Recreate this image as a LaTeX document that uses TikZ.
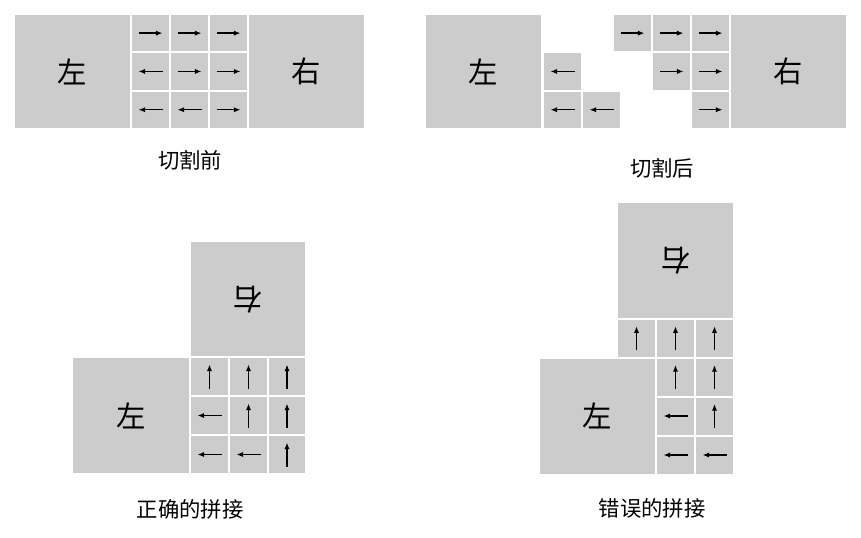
\documentclass[tikz,border=0pt]{standalone}
\usepackage{fontspec}
\newfontfamily\cjk{Noto Sans CJK SC}
\usetikzlibrary{arrows.meta}
\tikzset{
  piece/.style={fill=black!20,draw=white,line width=1.5pt,inner sep=0pt,outer sep=0pt},
  arr/.style={-{Latex[length=5pt,width=4pt]},line width=1pt},
  big/.style={font=\cjk\fontsize{22}{22}\selectfont},
  lab/.style={font=\cjk\fontsize{16}{16}\selectfont}
}
% \pc{name}{x}{y}{w}{h}{dir}  dir: r l u n
\newcommand\pc[6]{%
  \node[piece,minimum width=#4*0.75pt,minimum height=#5*0.75pt,anchor=north west] (#1) at (#2,#3) {};
  \ifx r#6\draw[arr] ([xshift=-9pt]#1.center) -- ([xshift=9pt]#1.center);\fi
  \ifx l#6\draw[arr] ([xshift=9pt]#1.center) -- ([xshift=-9pt]#1.center);\fi
  \ifx u#6\draw[arr] ([yshift=-9pt]#1.center) -- ([yshift=9pt]#1.center);\fi
}
\begin{document}
\begin{tikzpicture}[x=0.75pt,y=-0.75pt]
\useasboundingbox (0,0) rectangle (861,537);
% top left
\pc{aL}{14}{14}{117}{115}{n}
\node[big] at (aL.center) {左};
\pc{aR}{248}{14}{117}{115}{n}
\node[big] at (aR.center) {右};
\pc{a1}{131}{14}{39}{38.3}{r}\pc{a2}{170}{14}{39}{38.3}{r}\pc{a3}{209}{14}{39}{38.3}{r}
\pc{a4}{131}{52.3}{39}{38.3}{l}\pc{a5}{170}{52.3}{39}{38.3}{r}\pc{a6}{209}{52.3}{39}{38.3}{r}
\pc{a7}{131}{90.6}{39}{38.3}{l}\pc{a8}{170}{90.6}{39}{38.3}{l}\pc{a9}{209}{90.6}{39}{38.3}{r}
\node[lab] (la) at (190,160) {切割前};
% top right
\pc{bL}{425}{14}{117}{115}{n}
\node[big] at (bL.center) {左};
\pc{bR}{730}{14}{117}{115}{n}
\node[big] at (bR.center) {右};
\pc{b1}{613}{14}{39}{38.3}{r}\pc{b2}{652}{14}{39}{38.3}{r}\pc{b3}{691}{14}{39}{38.3}{r}
\pc{b5}{652}{52.3}{39}{38.3}{r}\pc{b6}{691}{52.3}{39}{38.3}{r}
\pc{b9}{691}{90.6}{39}{38.3}{r}
\pc{b4}{543}{52.3}{39}{38.3}{l}
\pc{b7}{543}{90.6}{39}{38.3}{l}\pc{b8}{582}{90.6}{39}{38.3}{l}
\node[lab] (lb) at (662,168) {切割后};
% bottom left
\pc{cT}{190}{241}{116}{117}{n}
\node[big,rotate=180] at (cT.center) {右};
\pc{cL}{72}{357}{119}{117}{n}
\node[big] at (cL.center) {左};
\pc{c1}{190}{357}{39}{39}{u}\pc{c2}{229}{357}{39}{39}{u}\pc{c3}{268}{357}{38}{39}{u}
\pc{c4}{190}{396}{39}{39}{l}\pc{c5}{229}{396}{39}{39}{u}\pc{c6}{268}{396}{38}{39}{u}
\pc{c7}{190}{435}{39}{39}{l}\pc{c8}{229}{435}{39}{39}{l}\pc{c9}{268}{435}{38}{39}{u}
\node[lab] (lc) at (190,509) {正确的拼接};
% bottom right
\pc{dT}{617}{202}{117}{117}{n}
\node[big,rotate=180] at (dT.center) {右};
\pc{d1}{617}{319}{39}{38.5}{u}\pc{d2}{656}{319}{39}{38.5}{u}\pc{d3}{695}{319}{39}{38.5}{u}
\pc{dL}{539}{357.5}{117}{117}{n}
\node[big] at (dL.center) {左};
\pc{d5}{656}{357.5}{39}{39}{u}\pc{d6}{695}{357.5}{39}{39}{u}
\pc{d8}{656}{396.5}{39}{39}{l}\pc{d9}{695}{396.5}{39}{39}{u}
\pc{d11}{656}{435.5}{39}{39}{l}\pc{d12}{695}{435.5}{39}{39}{l}
\node[lab] (ld) at (652,508) {错误的拼接};
\end{tikzpicture}
\end{document}
